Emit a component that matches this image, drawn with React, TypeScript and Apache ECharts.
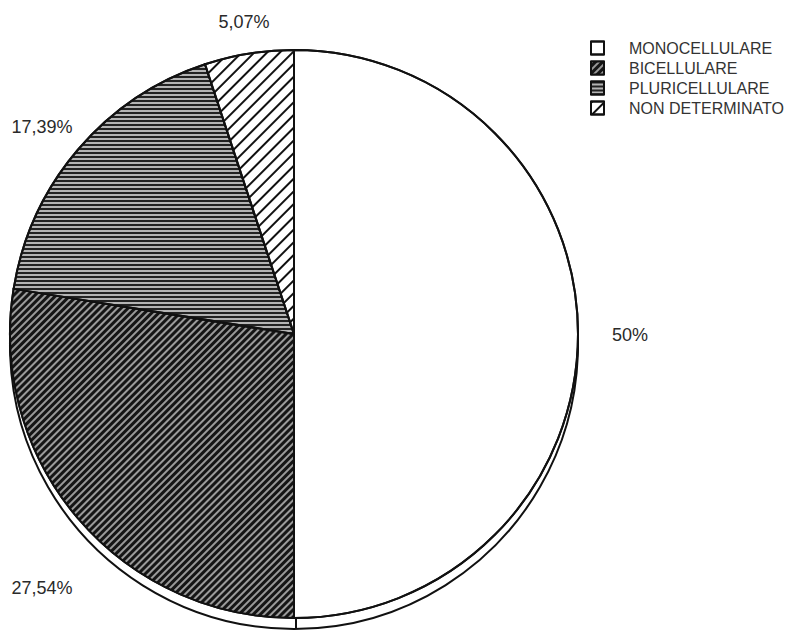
import React, { useEffect, useRef } from "react";
import * as echarts from "echarts";

const categories = ["MONOCELLULARE", "BICELLULARE", "PLURICELLULARE", "NON DETERMINATO"];
const values = [50, 27.54, 17.39, 5.07];

const W = 796;
const H = 636;
const CX = 294;
const CY = 334;
const R = 284;
const DEPTH = 11;
// label anchor points (layout, not data)
const labelAnchors = [
  [630, 335],
  [42, 588],
  [42, 127],
  [244, 22],
];

const fmt = (v: number) => String(v).replace(".", ",") + "%";
const FONT = "Liberation Sans, Arial, sans-serif";

const styles = [
  { color: "#ffffff", decal: undefined as any },
  {
    color: "#151515",
    decal: { symbol: "rect", symbolSize: 1, dashArrayX: [1, 0], dashArrayY: [1.3, 2.5], rotation: -Math.PI / 4, color: "#9a9a9a" },
  },
  {
    color: "#b4b4b4",
    decal: { symbol: "rect", symbolSize: 1, dashArrayX: [1, 0], dashArrayY: [1.5, 1.6], rotation: 0, color: "#222222" },
  },
  {
    color: "#ffffff",
    decal: { symbol: "rect", symbolSize: 1, dashArrayX: [1, 0], dashArrayY: [1.5, 7], rotation: -Math.PI / 4, color: "#111111" },
  },
];

export default function App() {
  const ref = useRef<HTMLDivElement>(null);
  useEffect(() => {
    if (!ref.current) return;
    const chart = echarts.init(ref.current, null, { renderer: "svg" });
    const data = categories.map((name, i) => ({
      name,
      value: values[i],
      itemStyle: {
        color: styles[i].color,
        borderColor: "#111",
        borderWidth: 2,
        ...(styles[i].decal ? { decal: styles[i].decal } : { decal: { symbol: "none" } }),
      },
    }));
    chart.setOption({
      animation: false,
      backgroundColor: "#ffffff",
      textStyle: { fontFamily: FONT },
      legend: {
        orient: "vertical",
        left: 585,
        top: 35,
        itemWidth: 13,
        itemHeight: 13,
        itemGap: 4,
        icon: "rect",
        textStyle: { fontSize: 16, color: "#333", fontFamily: FONT, padding: [0, 0, 0, 20] },
        data: categories,
      },
      graphic: [
        {
          type: "line",
          z: 10,
          shape: { x1: CX + 2, y1: CY + R, x2: CX + 2, y2: CY + R + DEPTH },
          style: { stroke: "#111", lineWidth: 2 },
        },
      ],
      series: [
        {
          type: "pie",
          z: 1,
          silent: true,
          center: [CX, CY + DEPTH],
          radius: R,
          label: { show: false },
          labelLine: { show: false },
          legendHoverLink: false,
          data: [{ name: "rim", value: 1, itemStyle: { color: "#fff", borderColor: "#111", borderWidth: 2 } }],
        },
        {
          type: "pie",
          z: 2,
          center: [CX, CY],
          radius: R,
          startAngle: 90,
          clockwise: true,
          data,
          label: {
            show: true,
            position: "inside",
            formatter: (p: any) => fmt(p.value),
            fontSize: 18,
            color: "#2a2a2a",
            fontFamily: FONT,
          },
          labelLine: { show: false },
          labelLayout: (p: any) => ({
            x: labelAnchors[p.dataIndex][0],
            y: labelAnchors[p.dataIndex][1],
            align: "center",
            verticalAlign: "middle",
          }),
        },
      ],
    });
    return () => chart.dispose();
  }, []);
  return (
    <div
      ref={ref}
      style={{ position: "fixed", left: 0, top: 0, width: W, height: H }}
    />
  );
}
